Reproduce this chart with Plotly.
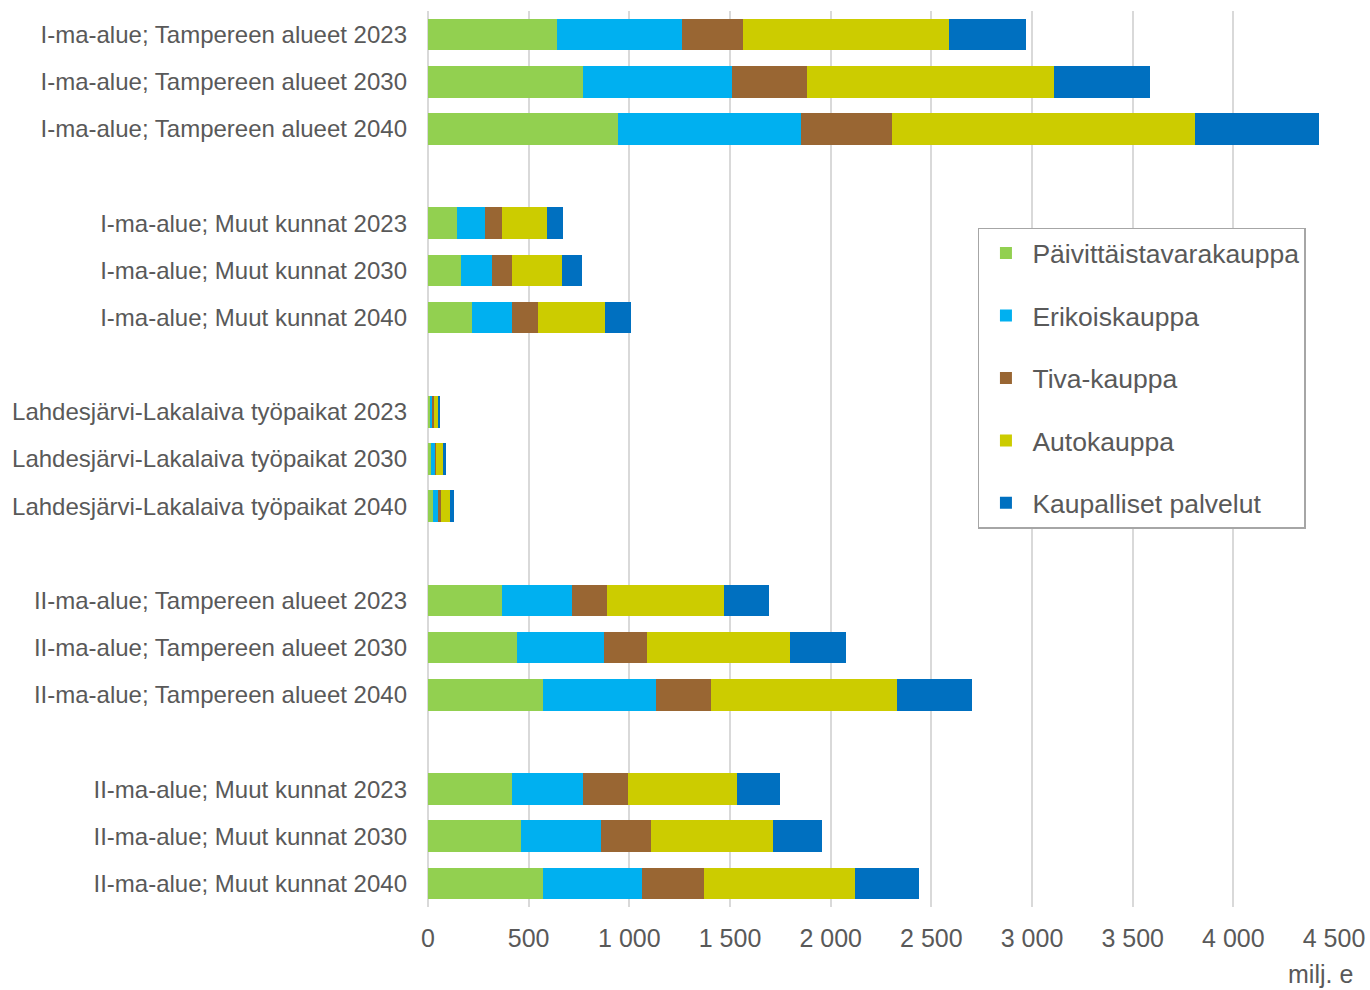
import plotly.graph_objects as go

groups = [
    "I-ma-alue; Tampereen alueet",
    "I-ma-alue; Muut kunnat",
    "Lahdesjärvi-Lakalaiva työpaikat",
    "II-ma-alue; Tampereen alueet",
    "II-ma-alue; Muut kunnat",
]
years = ["2023", "2030", "2040"]

series_names = ["Päivittäistavarakauppa", "Erikoiskauppa", "Tiva-kauppa",
                "Autokauppa", "Kaupalliset palvelut"]
colors = ["#92D050", "#00B0F0", "#996633", "#CCCC00", "#0070C0"]

# values in milj. e, order: group x year
paivittaistavara = [642, 769, 942, 146, 166, 217, 10, 15, 25, 366, 444, 573, 415, 460, 569]
erikoiskauppa    = [619, 743, 910, 136, 152, 201, 14, 20, 27, 351, 431, 561, 356, 399, 492]
tiva             = [305, 370, 454,  85,  98, 128,  6,  5, 13, 174, 213, 274, 224, 250, 312]
autokauppa       = [1020, 1226, 1502, 222, 252, 331, 22, 35, 46, 581, 709, 920, 539, 604, 746]
kaupalliset      = [384, 480, 618,  81,  98, 131, 10, 12, 19, 220, 279, 376, 214, 243, 318]

series_values = [paivittaistavara, erikoiskauppa, tiva, autokauppa, kaupalliset]

x_ticks = [0, 500, 1000, 1500, 2000, 2500, 3000, 3500, 4000, 4500]
x_tick_labels = ["0", "500", "1 000", "1 500", "2 000", "2 500", "3 000", "3 500", "4 000", "4 500"]

# positions: each group of 3 followed by an empty slot
labels, positions = [], []
for gi, g in enumerate(groups):
    for yi, yr in enumerate(years):
        labels.append(f"{g} {yr}")
        positions.append(gi * 4 + yi)

fig = go.Figure()
for name, vals, col in zip(series_names, series_values, colors):
    fig.add_trace(go.Bar(
        y=positions, x=vals, orientation="h", name=name,
        marker=dict(color=col, line=dict(width=0)),
        width=0.67, legendgroup=name,
    ))

font_family = "Liberation Sans, Arial, sans-serif"
fig.update_layout(
    barmode="stack",
    width=1370, height=990,
    margin=dict(l=428, r=36, t=11, b=83, autoexpand=False),
    paper_bgcolor="white", plot_bgcolor="white",
    font=dict(family=font_family, color="#595959"),
    showlegend=True,
    legend=dict(
        x=0.607, y=0.758, xanchor="left", yanchor="top",
        bordercolor="#A6A6A6", borderwidth=1.5,
        font=dict(size=26.5, color="#595959", family=font_family),
        tracegroupgap=25, traceorder="grouped",
        itemwidth=43,
        bgcolor="white",
    ),
    xaxis=dict(
        range=[0, 4500], tickvals=x_ticks, ticktext=x_tick_labels,
        showgrid=True, gridcolor="#D9D9D9", gridwidth=2,
        zeroline=True, zerolinecolor="#D9D9D9", zerolinewidth=2,
        tickfont=dict(size=25, color="#595959"),
        ticklabelstandoff=14, showline=False, automargin=False,
    ),
    yaxis=dict(
        range=[18.5, -0.5], tickvals=positions, ticktext=labels,
        showgrid=False, zeroline=False, showline=False,
        tickfont=dict(size=24, color="#595959"),
        ticklabelstandoff=20, automargin=False,
    ),
    annotations=[dict(
        text="milj. e", xref="paper", yref="paper", x=1.023, y=-0.075,
        xanchor="right", yanchor="middle", showarrow=False,
        font=dict(size=25, color="#595959", family=font_family),
    )],
)

fig.write_html("out.html")
